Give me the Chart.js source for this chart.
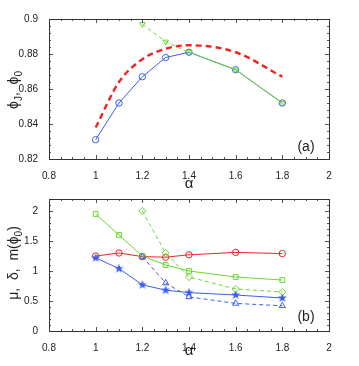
<!DOCTYPE html>
<html>
<head>
<meta charset="utf-8">
<script src="https://cdn.jsdelivr.net/npm/chart.js@4"></script>
<style>
  body { margin: 0; background: #fff; }
  #wrap { position: relative; width: 359px; height: 366px; overflow: hidden; }
  canvas { position: absolute; left: 0; }
  #topChart { top: 0; }
  #botChart { top: 190px; }
</style>
</head>
<body>
<div id="wrap">
  <canvas id="topChart" width="359" height="192"></canvas>
  <canvas id="botChart" width="359" height="176"></canvas>
</div>
<script>
// alpha values
const alphaAll = [1, 1.1, 1.2, 1.3, 1.4, 1.6, 1.8];
const alphaLate = [1.2, 1.3, 1.4, 1.6, 1.8];

// panel (a)
const phiJ = [0.831, 0.852, 0.867, 0.878, 0.881, 0.871, 0.852];
const phi0 = [0.897, 0.887, 0.881, 0.871, 0.852];
const phiRed = [0.838, 0.864, 0.877, 0.883, 0.885, 0.881, 0.867];

// panel (b)
const muRed = [1.25, 1.30, 1.24, 1.23, 1.27, 1.31, 1.29];
const greenSquares = [1.95, 1.60, 1.25, 1.10, 1.00, 0.90, 0.85];
const greenDiamonds = [2.00, 1.30, 0.90, 0.70, 0.65];
const blueStars = [1.22, 1.04, 0.77, 0.68, 0.64, 0.60, 0.55];
const blueTriangles = [1.24, 0.80, 0.57, 0.46, 0.42];

// ticks
const xTicks = [0.8, 1, 1.2, 1.4, 1.6, 1.8, 2];
const yTicksTop = [0.82, 0.84, 0.86, 0.88, 0.9];
const yTicksBot = [0, 0.5, 1, 1.5, 2];

const BLUE = "#3d5cf2";
const RED = "#f02424";
const GREEN = "#6ad82e";
const FONT = "'Liberation Sans', Arial, sans-serif";

function pts(xs, ys) {
  return xs.map((x, i) => ({ x: x, y: ys[i] }));
}

function starImage(color) {
  const c = document.createElement("canvas");
  c.width = 10;
  c.height = 10;
  const g = c.getContext("2d");
  g.fillStyle = color;
  g.beginPath();
  for (let i = 0; i < 10; i++) {
    const r = i % 2 === 0 ? 4.8 : 2.0;
    const a = -Math.PI / 2 + i * Math.PI / 5;
    g.lineTo(5 + r * Math.cos(a), 5 + r * Math.sin(a));
  }
  g.closePath();
  g.fill();
  return c;
}

// inward ticks on all four sides plus the frame
function frameTicks(minorX, minorY) {
  return {
    id: "frameTicks",
    afterDatasetsDraw(chart) {
      const { ctx, chartArea: a, scales } = chart;
      const x = scales.x, y = scales.y;
      ctx.save();
      ctx.strokeStyle = "#555";
      ctx.lineWidth = 1;
      ctx.beginPath();
      for (let v = x.min; v <= x.max + 1e-9; v += minorX) {
        const major = xTicks.some(t => Math.abs(t - v) < 1e-6);
        const len = major ? 4 : 2;
        const px = Math.round(x.getPixelForValue(v)) + 0.5;
        ctx.moveTo(px, a.bottom); ctx.lineTo(px, a.bottom - len);
        ctx.moveTo(px, a.top); ctx.lineTo(px, a.top + len);
      }
      const yt = chart.canvas.id === "topChart" ? yTicksTop : yTicksBot;
      for (let v = y.min; v <= y.max + 1e-9; v += minorY) {
        const major = yt.some(t => Math.abs(t - v) < 1e-6);
        const len = major ? 4 : 2;
        const py = Math.round(y.getPixelForValue(v)) + 0.5;
        ctx.moveTo(a.left, py); ctx.lineTo(a.left + len, py);
        ctx.moveTo(a.right, py); ctx.lineTo(a.right - len, py);
      }
      ctx.stroke();
      ctx.strokeStyle = "#333";
      ctx.strokeRect(Math.round(a.left) + 0.5, Math.round(a.top) + 0.5,
        Math.round(a.right - a.left), Math.round(a.bottom - a.top));
      ctx.restore();
    }
  };
}

// axis titles and panel tags
function labels(parts, yCenter, tag, tagY, alphaY) {
  return {
    id: "labels",
    afterDraw(chart) {
      const ctx = chart.ctx;
      ctx.save();
      ctx.fillStyle = "#222";
      ctx.textBaseline = "alphabetic";
      // rotated y title
      let total = 0;
      parts.forEach(p => {
        ctx.font = (p.sub ? "10px " : "14px ") + FONT;
        total += ctx.measureText(p.t).width;
      });
      ctx.translate(18, yCenter);
      ctx.rotate(-Math.PI / 2);
      let cx = -total / 2;
      parts.forEach(p => {
        ctx.font = (p.sub ? "10px " : "14px ") + FONT;
        ctx.fillText(p.t, cx, p.sub ? 4 : 0);
        cx += ctx.measureText(p.t).width;
      });
      ctx.setTransform(1, 0, 0, 1, 0, 0);
      ctx.font = "15px " + FONT;
      ctx.textAlign = "center";
      ctx.fillText("α", 189, alphaY);
      ctx.font = "14px " + FONT;
      ctx.fillText(tag, 306, tagY);
      ctx.restore();
    }
  };
}

function baseOptions(yMin, yMax, yTicks, padTop, xHeight) {
  return {
    responsive: false,
    animation: false,
    layout: { padding: { top: padTop, right: 30, left: 0, bottom: 0 } },
    plugins: { legend: { display: false }, tooltip: { enabled: false } },
    scales: {
      x: {
        type: "linear",
        min: 0.8,
        max: 2,
        grid: { display: false },
        border: { display: false },
        afterBuildTicks: s => { s.ticks = xTicks.map(v => ({ value: v })); },
        afterFit: s => { s.height = xHeight; },
        ticks: {
          padding: 3,
          color: "#222",
          maxRotation: 0,
          font: { family: FONT, size: 10 },
          callback: v => String(Number(v.toFixed(2)))
        }
      },
      y: {
        min: yMin,
        max: yMax,
        grid: { display: false },
        border: { display: false },
        afterBuildTicks: s => { s.ticks = yTicks.map(v => ({ value: v })); },
        afterFit: s => { s.width = 49; },
        ticks: {
          padding: 3,
          color: "#222",
          font: { family: FONT, size: 10 },
          callback: v => String(Number(v.toFixed(2)))
        }
      }
    }
  };
}

function line(data, color, opts) {
  return Object.assign({
    data: data,
    borderColor: color,
    backgroundColor: "rgba(0,0,0,0)",
    pointBorderColor: color,
    pointBackgroundColor: "rgba(0,0,0,0)",
    borderWidth: 1,
    pointRadius: 3.2,
    pointBorderWidth: 1,
    tension: 0
  }, opts || {});
}

document.addEventListener("DOMContentLoaded", () => {
  new Chart(document.getElementById("topChart"), {
    type: "line",
    data: {
      datasets: [
        line(pts(alphaAll, phiRed), RED, {
          order: 3, borderWidth: 2.4, borderDash: [6, 4], pointRadius: 0,
          cubicInterpolationMode: "monotone"
        }),
        line(pts(alphaAll, phiJ), BLUE, { order: 2, pointStyle: "circle" }),
        line(pts(alphaLate, phi0), GREEN, {
          order: 1, pointStyle: "triangle", pointRotation: 180,
          segment: { borderDash: c => c.p0.parsed.x < 1.39 ? [4, 3] : [] }
        })
      ]
    },
    options: baseOptions(0.82, 0.9, yTicksTop, 19, 33),
    plugins: [
      frameTicks(0.05, 0.004),
      labels([{ t: "ϕ" }, { t: "J", sub: true }, { t: ",  ϕ" }, { t: "0", sub: true }],
        90, "(a)", 151, 188)
    ]
  });

  new Chart(document.getElementById("botChart"), {
    type: "line",
    data: {
      datasets: [
        line(pts(alphaAll, muRed), RED, { order: 5, pointStyle: "circle" }),
        line(pts(alphaAll, greenSquares), GREEN, { order: 4, pointStyle: "rect", pointRadius: 3.4 }),
        line(pts(alphaLate, greenDiamonds), GREEN, {
          order: 3, pointStyle: "rectRot", pointRadius: 3.6, borderDash: [4, 3]
        }),
        line(pts(alphaAll, blueStars), BLUE, { order: 2, pointStyle: starImage(BLUE) }),
        line(pts(alphaLate, blueTriangles), BLUE, {
          order: 1, pointStyle: "triangle", pointRadius: 3.6, borderDash: [4, 3]
        })
      ]
    },
    options: baseOptions(0, 2.2, yTicksBot, 6, 35),
    plugins: [
      frameTicks(0.05, 0.1),
      labels([{ t: "μ,  δ,  m(ϕ" }, { t: "0", sub: true }, { t: ")" }],
        73, "(b)", 131, 165)
    ]
  });
});
</script>
</body>
</html>
